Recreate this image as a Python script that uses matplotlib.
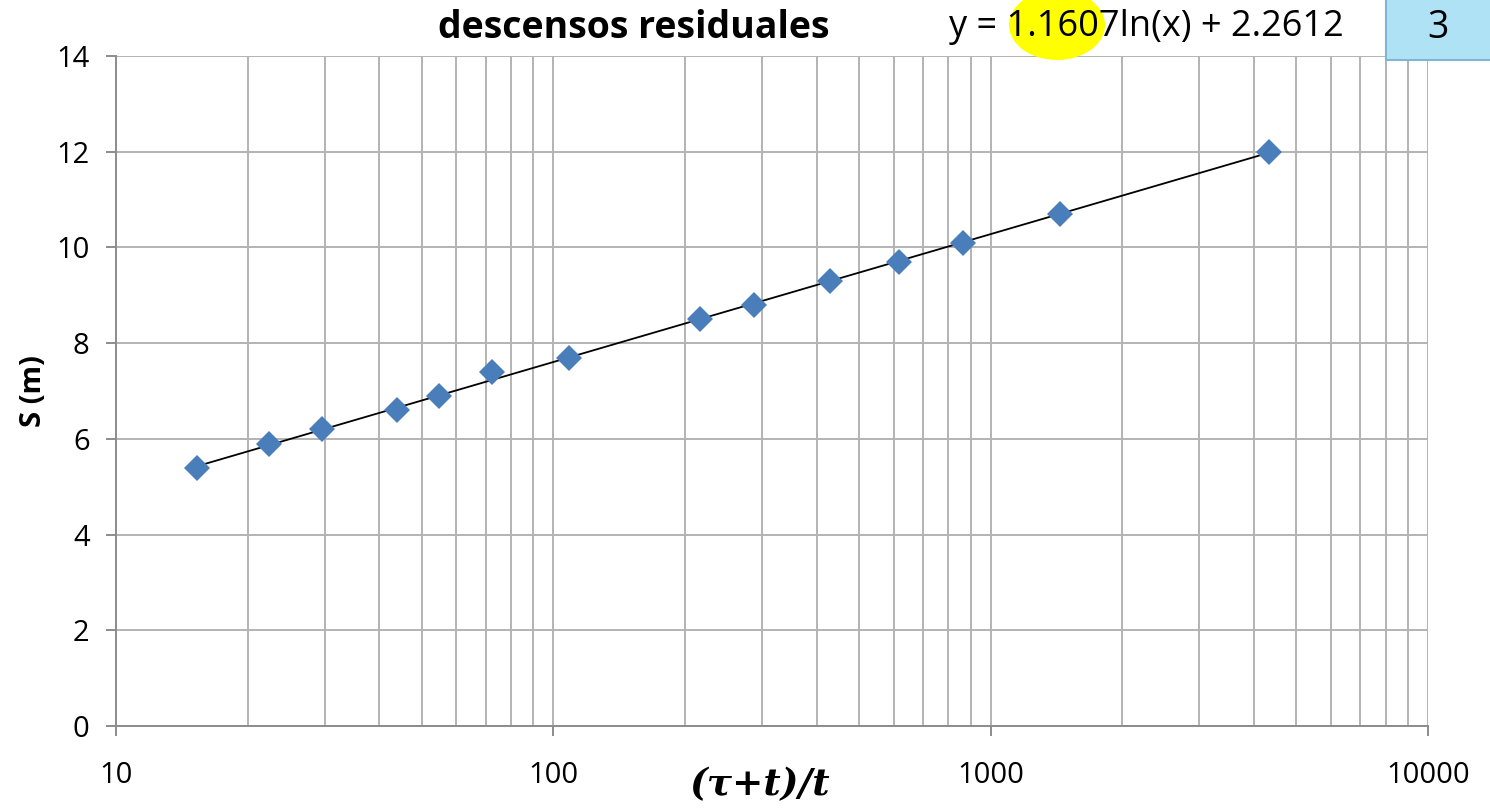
import numpy as np
import matplotlib.pyplot as plt
from matplotlib.patches import Ellipse, FancyBboxPatch
from matplotlib.ticker import LogLocator, FixedLocator, NullFormatter

# datos
ratio = [15.3, 22.4, 29.6, 43.9, 54.8, 72.4, 108.6, 216.5, 287.7, 429.3, 617, 865, 1442, 4335]
s_m = [5.4, 5.9, 6.2, 6.6, 6.9, 7.4, 7.7, 8.5, 8.8, 9.3, 9.7, 10.1, 10.7, 12.0]
fit_a = 1.1607
fit_b = 2.2612
x_ticks = [10, 100, 1000, 10000]
y_ticks = [0, 2, 4, 6, 8, 10, 12, 14]

plt.rcParams['font.family'] = ['Open Sans', 'DejaVu Sans']

fig = plt.figure(figsize=(14.9, 8.11), dpi=100)
ax = fig.add_axes([0.0779, 0.1048, 0.8805, 0.8261])

grid_col = "#b3b3b3"
ax.set_xscale("log")
ax.set_xlim(10, 10000)
ax.set_ylim(0, 14)
ax.xaxis.set_major_locator(FixedLocator(x_ticks))
ax.xaxis.set_minor_locator(LogLocator(base=10, subs=np.arange(2, 10)))
ax.xaxis.set_minor_formatter(NullFormatter())
ax.set_xticklabels([str(t) for t in x_ticks])
ax.set_yticks(y_ticks)
ax.grid(True, which="major", color=grid_col, linewidth=1.4)
ax.grid(True, which="minor", axis="x", color=grid_col, linewidth=1.4)
ax.set_axisbelow(True)

for side in ["top", "right"]:
    ax.spines[side].set_visible(False)
for side in ["left", "bottom"]:
    ax.spines[side].set_color("#8c8c8c")
    ax.spines[side].set_linewidth(1.4)

ax.tick_params(axis="x", which="major", length=7, width=1.4, color="#8c8c8c",
               labelsize=21, pad=18)
ax.tick_params(axis="x", which="minor", length=0)
ax.tick_params(axis="y", which="major", length=7, width=1.4, color="#8c8c8c",
               labelsize=21, pad=12)

# linea de tendencia logaritmica
xs = np.logspace(np.log10(min(ratio)), np.log10(max(ratio)), 200)
ax.plot(xs, fit_a * np.log(xs) + fit_b, color="black", linewidth=1.3, zorder=3)
ax.plot(ratio, s_m, linestyle="none", marker="D", markersize=13,
        color="#4a7ebb", markeredgewidth=0, zorder=4)

ax.set_ylabel("S (m)", fontsize=21, fontweight="bold", labelpad=6)
fig.text(0.51, 0.032, "(τ+t)/t", fontsize=27, fontweight="bold", style="italic",
         family="DejaVu Serif", ha="center", va="center")

fig.text(0.4255, 0.965, "descensos residuales", fontsize=27, fontweight="bold",
         ha="center", va="center")

# resaltado amarillo y ecuacion
fig.patches.append(Ellipse((1057 / 1490, 1 - 25 / 811), 96 / 1490, 70 / 811,
                           transform=fig.transFigure, facecolor="#ffff00",
                           edgecolor="none", zorder=1))
fig.text(0.7695, 0.967, "y = 1.1607ln(x) + 2.2612", fontsize=26,
         ha="center", va="center", zorder=2)

# recuadro con el numero de pagina
fig.patches.append(FancyBboxPatch((1386 / 1490, 1 - 60 / 811), 110 / 1490, 70 / 811,
                                  boxstyle="square,pad=0", transform=fig.transFigure,
                                  facecolor="#b0e2f6", edgecolor="#7fb5d0",
                                  linewidth=1.5, zorder=1))
fig.text(0.965, 0.966, "3", fontsize=27, ha="center", va="center", zorder=2)

fig.savefig("out.png", dpi=100)
